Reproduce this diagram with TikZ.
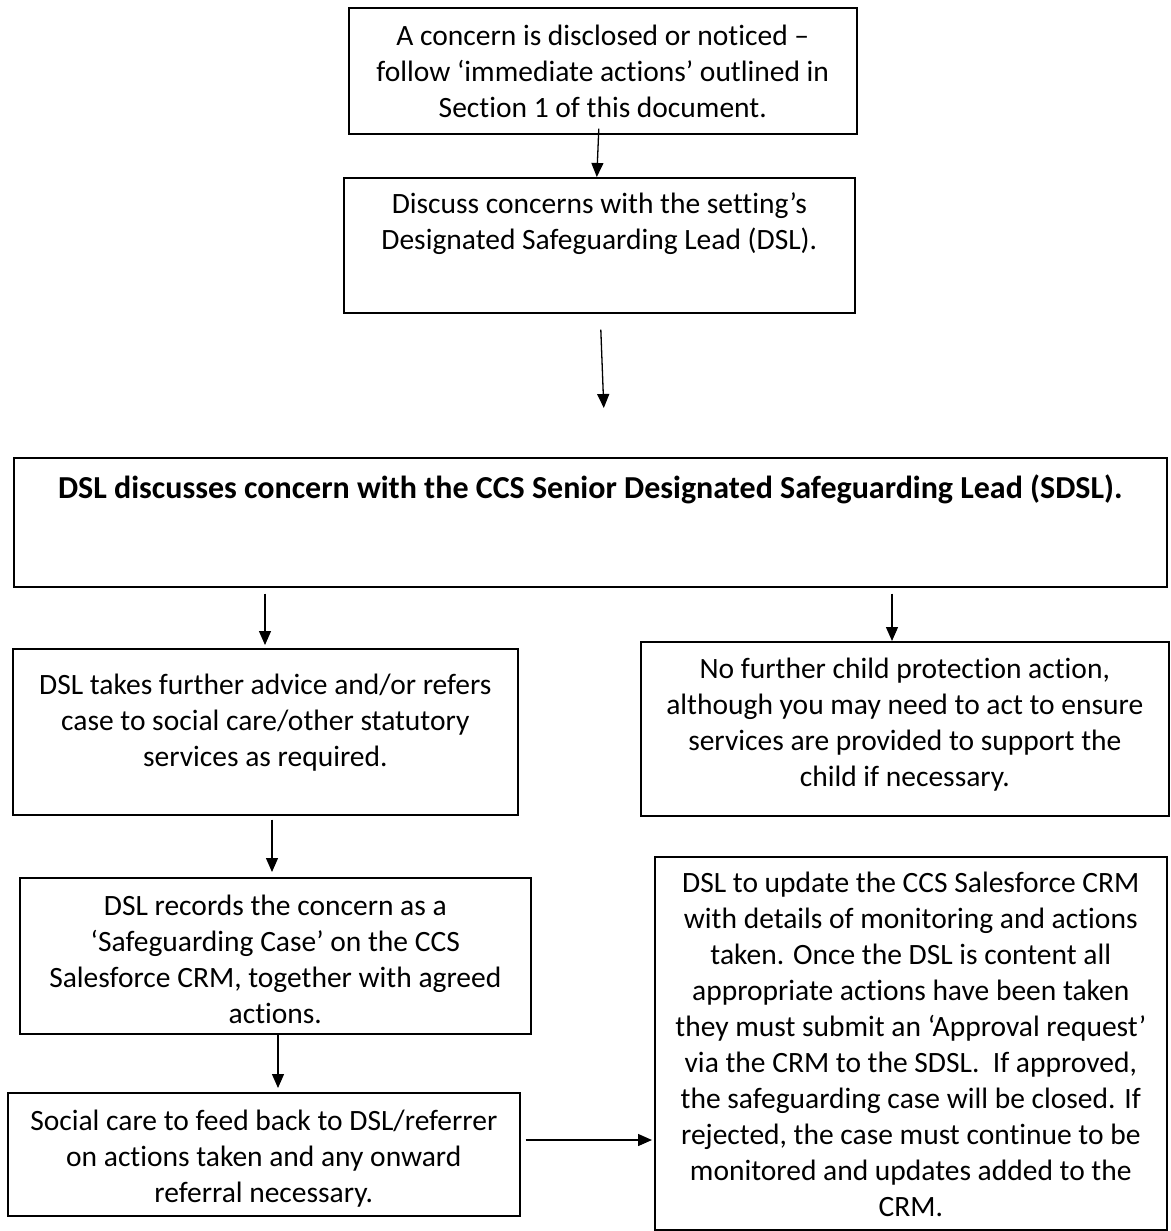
\documentclass[tikz,border=0pt]{standalone}
\usepackage{fontspec}
\setmainfont{Carlito}[Ligatures=NoCommon]
\usetikzlibrary{arrows.meta,calc}
\tikzset{
  box/.style={draw=black, line width=1.6pt, rectangle, inner sep=0pt, anchor=north west},
  txt/.style={align=center, inner sep=0pt, anchor=north, font=\fontsize{29.5}{36}\selectfont},
  btxt/.style={align=center, inner sep=0pt, anchor=north, font=\fontsize{32}{36}\selectfont\bfseries},
  arr/.style={line width=1.3pt, -{Triangle[length=14pt,width=12pt]}}
}
% first baseline sits 25.2pt below the top of a text node (strut height)
\begin{document}
\begin{tikzpicture}[x=1pt,y=-1pt]
\useasboundingbox (0,0) rectangle (1170,1231);
% boxes
\node[box, minimum width=508, minimum height=126] (b1) at (348,7) {};
\node[box, minimum width=511, minimum height=135] (b2) at (343,177) {};
\node[box, minimum width=1153, minimum height=129] (b3) at (13,457) {};
\node[box, minimum width=505, minimum height=166] (b4) at (12,648) {};
\node[box, minimum width=528, minimum height=174] (b5) at (640,641) {};
\node[box, minimum width=511, minimum height=156] (b6) at (19,877) {};
\node[box, minimum width=512, minimum height=123] (b7) at (7,1092) {};
\node[box, minimum width=512, minimum height=373] (b8) at (654,856) {};
% texts
\node[txt] (t1) at ($(b1.north)+(0,12.8)$) {\strut A concern is disclosed or noticed –\\follow ‘immediate actions’ outlined in\\Section 1 of this document.};
\node[txt] (t2) at ($(b2.north)+(0,10.8)$) {\strut Discuss concerns with the setting’s\\Designated Safeguarding Lead (DSL).};
\node[btxt] (t3) at ($(b3.north)+(0,15.8)$) {\strut DSL discusses concern with the CCS Senior Designated Safeguarding Lead (SDSL).};
\node[txt] (t4) at ($(b4.north)+(0,20.8)$) {\strut DSL takes further advice and/or refers\\case to social care/other statutory\\services as required.};
\node[txt] (t5) at ($(b5.north)+(0,11.8)$) {\strut No further child protection action,\\although you may need to act to ensure\\services are provided to support the\\child if necessary.};
\node[txt] (t6) at ($(b6.north)+(0,12.8)$) {\strut DSL records the concern as a\\‘Safeguarding Case’ on the CCS\\Salesforce CRM, together with agreed\\actions.};
\node[txt] (t7) at ($(b7.north)+(0,12.8)$) {\strut Social care to feed back to DSL/referrer\\on actions taken and any onward\\referral necessary.};
\node[txt] (t8) at ($(b8.north)+(0,10.8)$) {\strut DSL to update the CCS Salesforce CRM\\with details of monitoring and actions\\taken. Once the DSL is content all\\appropriate actions have been taken\\they must submit an ‘Approval request’\\via the CRM to the SDSL.\ \ If approved,\\the safeguarding case will be closed. If\\rejected, the case must continue to be\\monitored and updates added to the\\CRM.};
% arrows
\draw[arr] ($(b1.south)+(-4,-6)$) -- ($(b2.north)+(-2.5,0)$);
\draw[arr] ($(b2.south)+(1.5,16)$) -- ($(b3.north)+(13.5,-49)$);
\draw[arr] ($(b3.south west)+(252,6)$) -- ($(b4.north west)+(253,-3)$);
\draw[arr] ($(b3.south west)+(879,6)$) -- ($(b5.north west)+(252,0)$);
\draw[arr] ($(b4.south west)+(260,4)$) -- ($(b6.north west)+(253,-5)$);
\draw[arr] ($(b6.south west)+(259,0)$) -- ($(b7.north west)+(271,-4)$);
\draw[arr] ($(b7.north east)+(5,48)$) -- ($(b8.north west)+(-2,284)$);
\end{tikzpicture}
\end{document}
